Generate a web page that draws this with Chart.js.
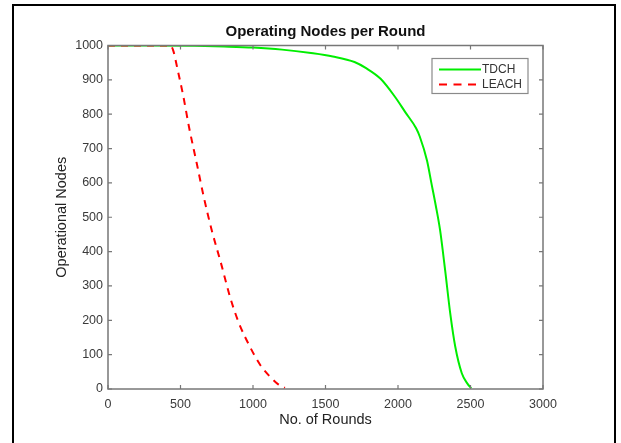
<!DOCTYPE html>
<html>
<head>
<meta charset="utf-8">
<script src="https://cdn.jsdelivr.net/npm/chart.js@4.4.1/dist/chart.umd.min.js"></script>
<style>
  html, body { margin: 0; padding: 0; background: #ffffff; }
  #wrap { position: relative; width: 621px; height: 443px; overflow: hidden; }
  #frame {
    position: absolute; left: 12px; top: 4px; width: 604px; height: 600px;
    box-sizing: border-box; border: 2px solid #000; pointer-events: none;
  }
  canvas { position: absolute; left: 0; top: 0; }
</style>
</head>
<body>
<div id="wrap">
  <canvas id="c" width="621" height="443"></canvas>
  <div id="frame"></div>
</div>
<script>
// Rounds and surviving nodes for each protocol
const tdchRounds = [0, 300, 600, 800, 1000, 1200, 1400, 1550, 1700, 1780, 1880, 1980, 2050, 2125, 2150, 2200, 2230, 2260, 2290, 2325, 2360, 2395, 2440, 2480, 2505];
const tdchNodes  = [1000, 1000, 999, 997, 994, 988, 978, 968, 952, 934, 903, 850, 806, 759, 735, 665, 600, 535, 463, 346, 221, 123, 46, 15, 2];

const leachRounds = [0, 430, 450, 480, 520, 560, 612, 660, 715, 780, 841, 900, 979, 1050, 1117, 1170, 1220];
const leachNodes  = [1000, 1000, 985, 930, 851, 760, 657, 560, 463, 365, 269, 195, 123, 70, 36, 15, 3];

const xTicks = [0, 500, 1000, 1500, 2000, 2500, 3000];
const yTicks = [0, 100, 200, 300, 400, 500, 600, 700, 800, 900, 1000];

const seriesNames = ['TDCH', 'LEACH'];

const toPoints = (xs, ys) => xs.map((x, i) => ({ x: x, y: ys[i] }));

const FONT = 'Liberation Sans, Arial, Helvetica, sans-serif';
const AXIS_COLOR = '#777777';

// Box around the plot with inward tick marks on all four sides
const boxTicks = {
  id: 'boxTicks',
  afterDatasetsDraw(chart) {
    const { ctx, chartArea: a, scales } = chart;
    const len = 4;
    ctx.save();
    ctx.strokeStyle = AXIS_COLOR;
    ctx.lineWidth = 1.5;
    ctx.strokeRect(a.left, a.top, a.right - a.left, a.bottom - a.top);
    ctx.lineWidth = 1.2;
    ctx.beginPath();
    xTicks.forEach(v => {
      const px = scales.x.getPixelForValue(v);
      ctx.moveTo(px, a.bottom); ctx.lineTo(px, a.bottom - len);
      ctx.moveTo(px, a.top); ctx.lineTo(px, a.top + len);
    });
    yTicks.forEach(v => {
      const py = scales.y.getPixelForValue(v);
      ctx.moveTo(a.left, py); ctx.lineTo(a.left + len, py);
      ctx.moveTo(a.right, py); ctx.lineTo(a.right - len, py);
    });
    ctx.stroke();
    ctx.restore();
  }
};

// Boxed legend in the upper right corner of the plot
const boxLegend = {
  id: 'boxLegend',
  afterDraw(chart) {
    const { ctx, chartArea: a } = chart;
    const w = 96, h = 35;
    const left = a.right - 15 - w, top = a.top + 13;
    ctx.save();
    ctx.fillStyle = '#ffffff';
    ctx.fillRect(left, top, w, h);
    ctx.strokeStyle = '#8a8a8a';
    ctx.lineWidth = 1.2;
    ctx.strokeRect(left, top, w, h);
    ctx.font = '12px ' + FONT;
    ctx.textBaseline = 'middle';
    ctx.fillStyle = '#333333';
    chart.data.datasets.forEach((ds, i) => {
      const y = top + 11 + i * 15;
      ctx.strokeStyle = ds.borderColor;
      ctx.lineWidth = ds.borderWidth;
      ctx.setLineDash(ds.borderDash ? [8, 6.5] : []);
      ctx.beginPath();
      ctx.moveTo(left + 7, y);
      ctx.lineTo(left + 49, y);
      ctx.stroke();
      ctx.setLineDash([]);
      ctx.fillText(ds.label, left + 50, y + 0.5);
    });
    ctx.restore();
  }
};

const plainNumber = v => String(v);

new Chart(document.getElementById('c'), {
  type: 'line',
  data: {
    datasets: [
      {
        label: seriesNames[0],
        data: toPoints(tdchRounds, tdchNodes),
        borderColor: '#00ee00',
        borderWidth: 2,
        pointRadius: 0,
        cubicInterpolationMode: 'monotone',
        order: 1
      },
      {
        label: seriesNames[1],
        data: toPoints(leachRounds, leachNodes),
        borderColor: '#ff0000',
        borderWidth: 2,
        borderDash: [7, 6],
        pointRadius: 0,
        cubicInterpolationMode: 'monotone',
        order: 0
      }
    ]
  },
  options: {
    responsive: false,
    animation: false,
    devicePixelRatio: 1,
    layout: { padding: { left: 0, top: 0, right: 78, bottom: 0 } },
    plugins: {
      legend: { display: false },
      tooltip: { enabled: false },
      title: {
        display: true,
        text: 'Operating Nodes per Round',
        fullSize: false,
        color: '#111111',
        font: { family: FONT, size: 15, weight: 'bold', lineHeight: 1.2 },
        padding: { top: 23, bottom: 4.5 }
      }
    },
    scales: {
      x: {
        type: 'linear',
        min: 0, max: 3000,
        afterBuildTicks: s => { s.ticks = xTicks.map(v => ({ value: v })); },
        afterFit: s => { s.height = 54; },
        grid: { display: false, drawTicks: false },
        border: { display: false },
        ticks: {
          padding: 8.5,
          color: '#3a3a3a',
          maxRotation: 0,
          callback: plainNumber,
          font: { family: FONT, size: 12.5, lineHeight: 1.2 }
        },
        title: {
          display: true,
          text: 'No. of Rounds',
          color: '#222222',
          font: { family: FONT, size: 14.5, lineHeight: 1.2 },
          padding: { top: 0, bottom: 14.3 }
        }
      },
      y: {
        type: 'linear',
        min: 0, max: 1000,
        afterBuildTicks: s => { s.ticks = yTicks.map(v => ({ value: v })); },
        afterFit: s => { s.width = 108; },
        grid: { display: false, drawTicks: false },
        border: { display: false },
        ticks: {
          padding: 5,
          color: '#3a3a3a',
          callback: plainNumber,
          font: { family: FONT, size: 12.5, lineHeight: 1.2 }
        },
        title: {
          display: true,
          text: 'Operational Nodes',
          color: '#222222',
          font: { family: FONT, size: 14.5, lineHeight: 1.2 },
          padding: { top: 53.3, bottom: 0 }
        }
      }
    }
  },
  plugins: [boxTicks, boxLegend]
});
</script>
</body>
</html>
